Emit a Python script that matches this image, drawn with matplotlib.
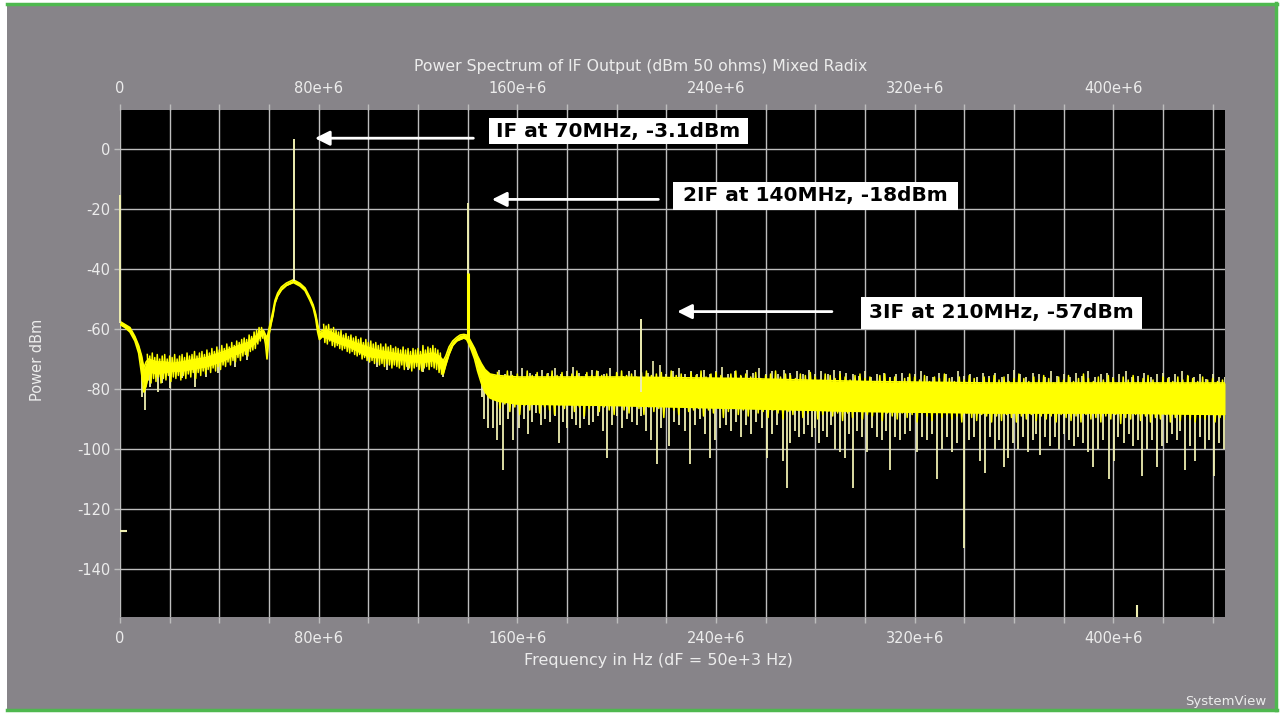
import matplotlib
matplotlib.use("Agg")
import numpy as np
import matplotlib.pyplot as plt
from matplotlib.patches import Rectangle
from matplotlib.lines import Line2D
from matplotlib.ticker import MultipleLocator, FuncFormatter

# ---------------- text ----------------
title = "Power Spectrum of IF Output (dBm 50 ohms) Mixed Radix"
xlabel = "Frequency in Hz (dF = 50e+3 Hz)"
ylabel = "Power dBm"
brand = "SystemView"

# ---------------- data (frequency in MHz, power in dBm) ----------------
# core of the trace (solid part)
band_freq = [0, 2, 4, 6, 7.5, 8.7, 9.6, 10.5, 11.5, 13, 15, 18, 21, 25, 28, 31.5, 35,
             38.3, 42, 45, 48, 51.7, 54, 56.5, 57.8, 58.6, 59.2, 60, 60.8, 61.6, 62.4,
             63.5, 65, 67, 69.8, 72.5, 74.5, 76.5, 77.8, 78.8, 79.6, 80.3, 81.5, 83.3,
             86, 89, 92.6, 96, 99.4, 103, 106, 109.5, 112.8, 116, 119.5, 123, 126.2,
             128.5, 130.2, 131.2, 132.5, 134, 135.6, 137, 138.5, 139.6, 140.5, 141.5,
             142.8, 144, 145.5, 147, 149, 152, 160, 200, 250, 300, 350, 400, 445]
band_top = [-57.5, -58.5, -59.5, -62.5, -65.5, -69, -73, -71, -70, -70.5, -71, -71,
            -71.5, -71, -70.5, -70, -69.5, -68.5, -67.5, -66.5, -65.5, -64.5, -63, -61,
            -60.5, -62, -63, -60, -57, -54, -50.5, -48, -46, -44.7, -43.6, -44.8, -46.3,
            -49.5, -52, -55, -58.5, -61, -60.5, -60.5, -61.5, -63, -64, -65, -66, -67,
            -67.5, -68, -68.5, -69, -69, -68.5, -68, -69, -70.5, -69, -66, -64, -62.8,
            -62, -61.8, -62, -63, -64.5, -66.5, -69, -71.5, -73.5, -75, -75.5, -76,
            -76, -76.5, -77.5, -78, -78, -78]
band_bot = [-58.5, -59.5, -61, -64, -68, -75, -81, -79, -75, -74.5, -75, -74.5, -74,
            -74, -73.5, -73, -72.5, -71.5, -70.5, -69, -68, -66.5, -65, -62.5, -61.5, -65,
            -70, -62, -58.5, -55.5, -51.5, -49, -47, -45.5, -44.5, -45.7, -47.2, -50.5,
            -53, -56.5, -61, -63.5, -62.5, -63, -64, -65, -66, -67.5, -69, -69.5, -69.5,
            -70, -70, -70.5, -71, -71, -70.5, -71.5, -75, -72, -68.5, -65.5, -64,
            -63.5, -63, -63.5, -65, -67, -70, -74, -78, -81, -83, -84, -85, -85.5, -86.5,
            -87.5, -88, -88, -88.5]

# noisy edges of the trace: upper / lower excursions
edgeA_freq = list(range(11, 58))
edgeA_hi = [-68.5, -69, -68, -69.5, -68.5, -70, -69, -68.5, -70, -69, -69.5, -68.5, -70,
            -69, -68.5, -69.5, -68, -69, -68.5, -67.5, -69, -68, -67.5, -68.5, -67, -68,
            -66.5, -67.5, -66, -67, -65.5, -66.5, -65, -66, -64.5, -65.5, -64, -64.5,
            -63.5, -63, -63.5, -62, -62.5, -61, -60.5, -59.5, -59.5]
edgeA_lo = [-77, -78, -76.5, -77.5, -76, -78, -76.5, -77, -75.5, -77.5, -76, -76.5,
            -75.5, -77, -75.5, -76.5, -75, -76, -74.5, -76.5, -74.5, -75.5, -74, -75,
            -73.5, -74.5, -73, -74, -72.5, -73.5, -72, -72.5, -71, -72, -70.5, -71, -69.5,
            -70.5, -69, -68.5, -69, -67.5, -67, -66.5, -65, -64, -63]
edgeB_freq = list(range(82, 130))
edgeB_hi = [-58.5, -59, -58.5, -60, -59.5, -60.5, -61, -60.5, -62, -61.5, -62.5, -62,
            -63, -62.5, -63.5, -63, -64.5, -63.5, -64.5, -64, -65, -64.5, -65.5, -65,
            -66, -65, -66, -65.5, -66.5, -66, -66.5, -67, -66, -67, -66.5, -67.5, -66.5,
            -67, -66.5, -67.5, -65.5, -67, -66, -66.5, -65.5, -66.5, -67, -68]
edgeB_lo = [-64.5, -65, -64, -65.5, -66, -65.5, -66.5, -67, -66.5, -67.5, -68, -67.5,
            -68.5, -69, -68.5, -70, -69.5, -70.5, -71, -70.5, -71.5, -71, -72, -71.5,
            -72.5, -71.5, -72, -73, -72, -72.5, -73, -72, -73.5, -72.5, -73, -74, -73,
            -72.5, -73.5, -74, -73, -72.5, -73.5, -72.5, -73, -73.5, -74.5, -75]
edgeC_freq = list(range(152, 445, 2))
edgeC_hi = [-74.5, -76, -74, -75.5, -75, -76.5, -74, -75.5, -74.5, -76,
            -75, -74, -75.5, -74.5, -76.5, -75, -74, -76, -74.5, -75.5,
            -74, -75.5, -75, -76.5, -74.5, -74, -75.5, -75, -76, -74.5,
            -74, -75.5, -75, -74.5, -76, -74, -75.5, -75, -76.5, -74.5,
            -75.5, -74, -76, -75, -74.5, -75.5, -76.5, -75, -74, -75.5,
            -75, -76, -74.5, -76.5, -75.5, -75, -74, -76, -75, -75.5,
            -76.5, -75, -75.5, -74.5, -76, -77, -75, -75.5, -76.5, -75,
            -76, -77, -75.5, -75, -76.5, -76, -77.5, -75.5, -75, -76.5,
            -76, -77.5, -76.5, -75, -76, -77, -75.5, -77.5, -76, -76.5,
            -75, -76.5, -77.5, -76, -77, -75.5, -76.5, -78, -76, -76.5,
            -75.5, -77, -76, -77.5, -76.5, -75, -76.5, -77.5, -76, -77,
            -75.5, -76.5, -78, -76, -77, -75.5, -77.5, -76.5, -75, -76.5,
            -77.5, -76, -77, -75.5, -76.5, -78, -76, -77, -75.5, -77.5,
            -76.5, -75.5, -77, -78, -76, -76.5, -77.5, -76, -77, -75.5,
            -76.5, -77.5, -76, -77, -76.5, -77.5, -77]
edgeC_lo = [-86.5, -85, -87.5, -86, -88.5, -85.5, -87, -85, -88, -86,
            -87, -88.5, -85.5, -86.5, -85, -87.5, -86, -89, -86.5, -85.5,
            -87.5, -86, -87, -88.5, -85.5, -87, -88, -85.5, -86.5, -88.5,
            -86, -87.5, -86.5, -89.5, -86, -87, -88.5, -85.5, -87.5, -87,
            -86.5, -89, -87, -88, -86, -89.5, -87.5, -86.5, -88.5, -87,
            -89, -86.5, -88, -87.5, -89.5, -87, -88, -90, -87.5, -88.5,
            -87, -89.5, -88, -87, -90, -88.5, -87.5, -89, -88, -90.5,
            -88, -89.5, -87.5, -90, -88.5, -89, -87.5, -90.5, -88, -89,
            -90, -88, -89.5, -88.5, -91, -88, -89, -90.5, -88.5, -89.5,
            -88.5, -90, -89, -91, -88, -89.5, -90.5, -88.5, -89, -91,
            -89, -90.5, -88.5, -89.5, -91, -89, -90, -88.5, -90.5, -89,
            -90, -89, -91, -88.5, -89.5, -90.5, -89, -91, -88.5, -90,
            -89.5, -91, -89, -90, -88.5, -91.5, -89.5, -90, -88.5, -90.5,
            -89, -91, -89.5, -90, -88.5, -91, -89.5, -90.5, -89, -90,
            -91, -89.5, -90, -88.5, -91, -89.5, -90]

# discrete tones (thin lines)
tone_freq = [0, 70, 140, 210]
tone_peak = [-15.3, 3.3, -18.0, -56.7]
# bright narrow line at 2IF
strong_freq = [140]
strong_peak = [-41.4]

# downward noise spikes
down_freq = [8.7, 10.1, 12.1, 15.4, 16.8, 20.1, 24.8, 30.2, 34.7, 39.6, 46.3, 51.0,
             103.4, 107.5, 116.1, 122.2, 130.2, 145.7,
             146.4, 148.2, 150.4, 151.7, 153, 154.4, 156.2, 158.4, 160.5, 162.5, 164.2,
             165.8, 167.6, 169.4, 171.2, 173.2, 175, 176.6, 178.5, 180.2, 182.2, 183.8,
             185.3, 187, 188.7, 190.3, 192.5, 194.4, 196, 198, 200, 202, 204, 206, 208.1,
             210, 212, 214, 216.2, 218, 220.9, 223, 225, 227.5, 229.6, 231.5, 233.5,
             235.6, 237.7, 239.8, 241.8, 244, 246, 248, 250, 252, 254, 256.2, 258.4,
             260.5, 262.5, 264.5, 267.2, 268.5, 270, 271.9, 273.5, 275.3, 277, 278.6,
             280, 281.3, 283, 284.7, 286.3, 288, 290, 292, 293.5, 295.2, 297, 299, 301,
             303, 305, 307, 308.5, 310.2, 312, 314, 316, 318, 320.9, 323, 325, 327, 329,
             331, 333, 335, 337, 340, 342, 344, 346.4, 348.4, 350.5, 352.5, 354, 355.8,
             357.5, 359.5, 361.5, 363.5, 365.5, 367.5, 369, 370.6, 372.5, 374.5, 376.5,
             378.3, 380.3, 382, 384, 386, 388, 390, 392, 394, 396, 398.1, 400.3, 402,
             404.3, 406.2, 408, 410, 411.5, 413.5, 415.5, 417.6, 419.5, 421.5, 423.5,
             425.5, 427, 429, 431, 433, 435, 437, 438.5, 440.4, 442.5, 444.5]
down_val = [-82.6, -87, -79.2, -80.9, -78.1, -79.8, -76.4, -79.2, -75.9, -74.8, -72.6,
            -70.3, -72.6, -73.7, -73.7, -74.2, -75.9, -82.6,
            -90, -93, -93, -97, -92, -107, -90, -97, -93, -90, -95, -91, -88, -92, -90,
            -91, -89, -98, -91, -93, -90, -92, -93, -90, -92, -91, -89, -94, -103, -92,
            -89, -93, -90, -91, -92, -89, -94, -97, -105, -93, -99, -91, -92, -94, -105,
            -92, -90, -95, -103, -97, -93, -92, -94, -91, -96, -92, -95, -91, -93, -103,
            -95, -92, -104, -113, -98, -94, -96, -95, -92, -96, -93, -98, -94, -96, -92,
            -100, -101, -103, -95, -113, -94, -96, -101, -93, -96, -97, -94, -107, -96,
            -97, -95, -94, -101, -96, -97, -95, -110, -100, -96, -101, -98, -133, -97,
            -96, -104, -108, -96, -100, -97, -106, -103, -98, -100, -96, -101, -97, -95,
            -102, -96, -99, -96, -100, -95, -97, -99, -96, -98, -101, -106, -100, -97,
            -110, -104, -96, -98, -95, -99, -97, -109, -100, -97, -106, -99, -98, -95,
            -97, -94, -107, -99, -104, -96, -100, -97, -109, -98, -100]

# upward noise tips
up_freq = [147, 150, 152.5, 155, 157.5, 160, 162, 165, 167.5, 170, 172.5, 175, 177.5,
           180, 182.5, 185, 187.5, 190, 192.5, 195, 197.5, 200, 202.5, 205, 207.5, 212.5,
           214.8, 217.5, 220, 222.5, 225, 227.5, 230, 232.5, 235, 237.5, 240, 242.5, 245,
           247.5, 250, 252.5, 255, 257.5, 260, 262.5, 265, 267.5, 270, 272.5, 275, 277.5,
           280, 282.5, 285, 287.5, 290, 292.5, 295, 297.5, 300, 302.5, 305, 307.5, 310,
           312.5, 315, 317.5, 320, 322.5, 325, 327.5, 330, 332.5, 335, 337.5, 340, 342.5,
           345, 347.5, 350, 352.5, 355, 357.5, 360, 362.5, 365, 367.5, 370, 372.5, 375,
           377.5, 380, 382.5, 385, 387.5, 390, 392.5, 395, 397.5, 400, 402.5, 405, 407.5,
           410, 412.5, 415, 417.5, 420, 422.5, 425, 427.5, 430, 432.5, 435, 437.5, 440,
           442.5, 445]
up_val = [-74, -75, -73.5, -75, -74, -75.5, -73, -74.5, -75, -73.5, -74.5, -73, -75, -74,
          -72.5, -74.5, -75, -73.5, -74, -75, -73, -74.5, -75.5, -74, -73.5, -74.5, -70.5,
          -72, -75, -74, -73, -75, -74, -75, -73.5, -75, -74, -72.5, -75, -74, -75.5,
          -73.5, -74.5, -73, -75, -74, -75, -73.5, -74.5, -74, -75, -73.5, -75, -74, -75,
          -73.5, -74, -74.5, -75, -75.5, -74, -76, -75, -74.5, -76, -75, -74.5, -76, -75,
          -74, -75.5, -76, -74.5, -75, -76, -74, -75.5, -75, -76, -74.5, -75.5, -74.5,
          -76, -75, -73.5, -75, -76, -74.5, -75, -76, -74, -75.5, -75, -76, -74.5, -75.5,
          -74, -76, -75, -74.5, -76, -75, -74, -76, -75.5, -74.5, -76, -75, -74.5, -76,
          -75, -74, -75.5, -76, -75, -76.5, -75, -76, -76]

# small isolated markers
hmark_val = [-127.3]
hmark_span = [0, 3]
vmark_freq = [409.6]
vmark_top = [-152]

# annotations
ann_text = ["IF at 70MHz, -3.1dBm", "2IF at 140MHz, -18dBm", "3IF at 210MHz, -57dBm"]
ann_box_x = [148.6, 222.8, 298.5]
ann_box_x2 = [253.0, 337.6, 411.7]
ann_box_y = [1.7, -20.3, -60.0]
ann_box_y2 = [10.2, -11.0, -49.3]
arrow_tip_x = [78.5, 149.8, 224.4]
arrow_tail_x = [142.3, 216.8, 286.7]
arrow_y = [3.6, -16.8, -54.2]

xlim = (0, 445)
ylim = (-156, 13)

# ---------------- styling ----------------
BG = "#878489"
YEL = "#ffff00"
PALE = "#eeeeb0"
TXT = "#ececec"
GRID = "#bdbdbd"

fig = plt.figure(figsize=(12.82, 7.13), dpi=100, facecolor="white")
W, H = 1282, 713
def fx(px):
    return px / W
def fy(py):
    return 1 - py / H

fig.patches.append(Rectangle((fx(7), fy(710)), fx(1276) - fx(7), fy(3) - fy(710),
                             transform=fig.transFigure, facecolor=BG, edgecolor="none",
                             zorder=-10))
for (x0, y0, x1, y1) in [(7, 3.5, 1277, 3.5), (7, 709.5, 1277, 709.5), (1276, 3, 1276, 710)]:
    fig.lines.append(Line2D([fx(x0), fx(x1)], [fy(y0), fy(y1)], transform=fig.transFigure,
                            color="#4fb84f", lw=2.5, zorder=-5))

ax = fig.add_axes([fx(120), fy(617), fx(1225) - fx(120), fy(110) - fy(617)])
ax.set_facecolor("black")
ax.set_xlim(*xlim)
ax.set_ylim(*ylim)
for s in ax.spines.values():
    s.set_visible(False)

def xfmt(v, p):
    r = int(round(v))
    if r % 80 != 0:
        return ""
    return "0" if r == 0 else f"{r}e+6"

ax.xaxis.set_major_locator(MultipleLocator(20))
ax.xaxis.set_major_formatter(FuncFormatter(xfmt))
ax.set_yticks(np.arange(-140, 1, 20))
ax.yaxis.set_major_formatter(FuncFormatter(lambda v, p: f"{int(round(v))}"))
ax.grid(True, color=GRID, lw=1.0)
ax.set_axisbelow(True)
ax.tick_params(axis="x", which="both", top=True, labeltop=True, bottom=True,
               labelbottom=True, direction="out", length=4, width=1, color=GRID,
               labelcolor=TXT, labelsize=10.5, pad=6)
ax.tick_params(axis="y", direction="out", length=4, width=1, color=GRID,
               labelcolor=TXT, labelsize=10.5, pad=3)

# spikes behind the band
bf = np.array(band_freq)
mid = (np.array(band_top) + np.array(band_bot)) / 2
ax.vlines(down_freq, down_val, np.interp(down_freq, bf, mid), color=PALE, lw=1.3, zorder=2)
ax.vlines(up_freq, np.interp(up_freq, bf, mid), up_val, color=PALE, lw=1.2, zorder=2)

# noisy edges: zig-zag between upper and lower excursions
for ef, ehi, elo, half in [(edgeA_freq, edgeA_hi, edgeA_lo, 0.5),
                           (edgeB_freq, edgeB_hi, edgeB_lo, 0.5),
                           (edgeC_freq, edgeC_hi, edgeC_lo, 1.0)]:
    zx, zy = [], []
    for f, h, l in zip(ef, ehi, elo):
        zx += [f, f + half]
        zy += [h, l]
    ax.plot(zx, zy, color=YEL, lw=1.1, zorder=3)

# core band
ax.fill_between(band_freq, band_bot, band_top, color=YEL, lw=0, zorder=3)
ax.plot(band_freq, band_top, color=YEL, lw=1.2, zorder=3)
ax.plot(band_freq, band_bot, color=YEL, lw=1.2, zorder=3)

# tones
ax.vlines(tone_freq, np.interp(tone_freq, bf, mid), tone_peak, color=PALE, lw=1.4,
          zorder=4, clip_on=False)
ax.vlines(strong_freq, np.interp(strong_freq, bf, mid), strong_peak, color=YEL, lw=2.2,
          zorder=4)

# markers
ax.hlines(hmark_val, hmark_span[0], hmark_span[1], color=PALE, lw=1.5, zorder=4)
ax.vlines(vmark_freq, ylim[0], vmark_top, color=PALE, lw=1.5, zorder=4)

# annotations
for t, x0, x1, y0, y1, ax0, ax1, ay in zip(ann_text, ann_box_x, ann_box_x2, ann_box_y,
                                          ann_box_y2, arrow_tip_x, arrow_tail_x, arrow_y):
    ax.add_patch(Rectangle((x0, y0), x1 - x0, y1 - y0, facecolor="white",
                           edgecolor="none", zorder=6))
    ax.text((x0 + x1) / 2, (y0 + y1) / 2, t, ha="center", va="center",
            fontsize=14.5, fontweight="bold", family="DejaVu Sans", color="black",
            zorder=7)
    ax.annotate("", xy=(ax0, ay), xytext=(ax1, ay),
                arrowprops=dict(arrowstyle="-|>", color="white", lw=2,
                                mutation_scale=22, shrinkA=0, shrinkB=0), zorder=6)

fig.text(0.5, fy(67), title, ha="center", va="center", color=TXT, fontsize=11.3)
fig.text(fx(658), fy(661), xlabel, ha="center", va="center", color=TXT, fontsize=11.5)
fig.text(fx(38), fy(360), ylabel, ha="center", va="center", color=TXT, fontsize=10.5,
         rotation=90)
fig.text(fx(1266), fy(702), brand, ha="right", va="center", color=TXT, fontsize=9.5)

fig.savefig("out.png", dpi=100, facecolor="white")
